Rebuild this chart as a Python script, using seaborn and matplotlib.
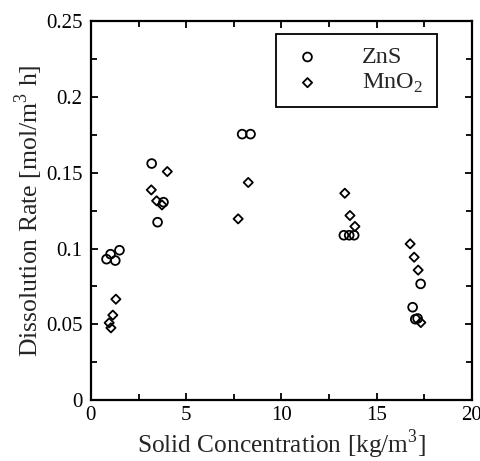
import matplotlib
matplotlib.use("Agg")
import matplotlib.pyplot as plt
import seaborn as sns
import pandas as pd
from matplotlib.ticker import MultipleLocator, FormatStrFormatter

sns.set_style("ticks")
plt.rcParams['font.family'] = ['Liberation Serif', 'DejaVu Serif']
plt.rcParams['mathtext.fontset'] = 'custom'
plt.rcParams['mathtext.rm'] = 'Liberation Serif'

zns_x = [0.82, 1.03, 1.28, 1.50, 3.19, 3.50, 3.81, 7.94, 8.38, 13.28, 13.56, 13.82, 17.31, 16.89, 17.03, 17.15]
zns_y = [0.093, 0.0963, 0.0921, 0.0989, 0.1561, 0.1174, 0.1306, 0.1755, 0.1755, 0.1088, 0.1088, 0.1088, 0.0767, 0.0613, 0.0534, 0.0539]
mno2_x = [1.31, 1.15, 0.96, 1.05, 3.17, 3.45, 3.73, 4.01, 7.73, 8.26, 13.33, 13.60, 13.86, 16.76, 16.97, 17.18, 17.32]
mno2_y = [0.0666, 0.0561, 0.051, 0.0477, 0.1387, 0.1315, 0.1288, 0.1508, 0.1196, 0.1436, 0.1365, 0.1218, 0.1146, 0.1031, 0.0943, 0.0858, 0.0512]

df_zns = pd.DataFrame({"x": zns_x, "y": zns_y})
df_mno2 = pd.DataFrame({"x": mno2_x, "y": mno2_y})

fig = plt.figure(figsize=(4.81, 4.61), dpi=100)
ax = fig.add_axes([0.189, 0.132, 0.792, 0.822])

sns.scatterplot(data=df_zns, x="x", y="y", ax=ax, marker="o", s=40,
                facecolor="none", edgecolor="black", linewidth=1.3, label="ZnS")
sns.scatterplot(data=df_mno2, x="x", y="y", ax=ax, marker="D", s=22,
                facecolor="none", edgecolor="black", linewidth=1.3, label="MnO$_2$")

ax.set_xlim(0, 20)
ax.set_ylim(0, 0.25)
ax.xaxis.set_major_locator(MultipleLocator(5))
ax.xaxis.set_minor_locator(MultipleLocator(2.5))
ax.yaxis.set_major_locator(MultipleLocator(0.05))
ax.yaxis.set_minor_locator(MultipleLocator(0.025))
ax.yaxis.set_major_formatter(FormatStrFormatter('%g'))
ax.xaxis.set_major_formatter(FormatStrFormatter('%g'))
ax.tick_params(which='both', direction='in', top=True, right=True, width=1.3, colors='black', labelsize=15)
ax.tick_params(axis='x', which='major', length=5, pad=4)
ax.tick_params(axis='y', which='major', length=5, pad=6)
ax.tick_params(which='minor', length=4)
for sp in ax.spines.values():
    sp.set_linewidth(1.6)
    sp.set_color('black')

ax.set_xlabel("Solid Concentration [kg/m$^3$]", fontsize=18.3, labelpad=2.5)
ax.set_ylabel("Dissolution Rate [mol/m$^3$ h]", fontsize=18.5, labelpad=1)

leg = ax.legend(loc='upper left', bbox_to_anchor=(0.4856, 0.5, 0.4226, 0.4657),
                mode='expand', fontsize=17.5,
                frameon=True, fancybox=False, edgecolor='black', framealpha=1,
                handletextpad=1.45, borderpad=0.5, labelspacing=0.15, handlelength=1.6,
                borderaxespad=0)
leg.get_frame().set_linewidth(1.3)

fig.savefig("out.png", dpi=100)
